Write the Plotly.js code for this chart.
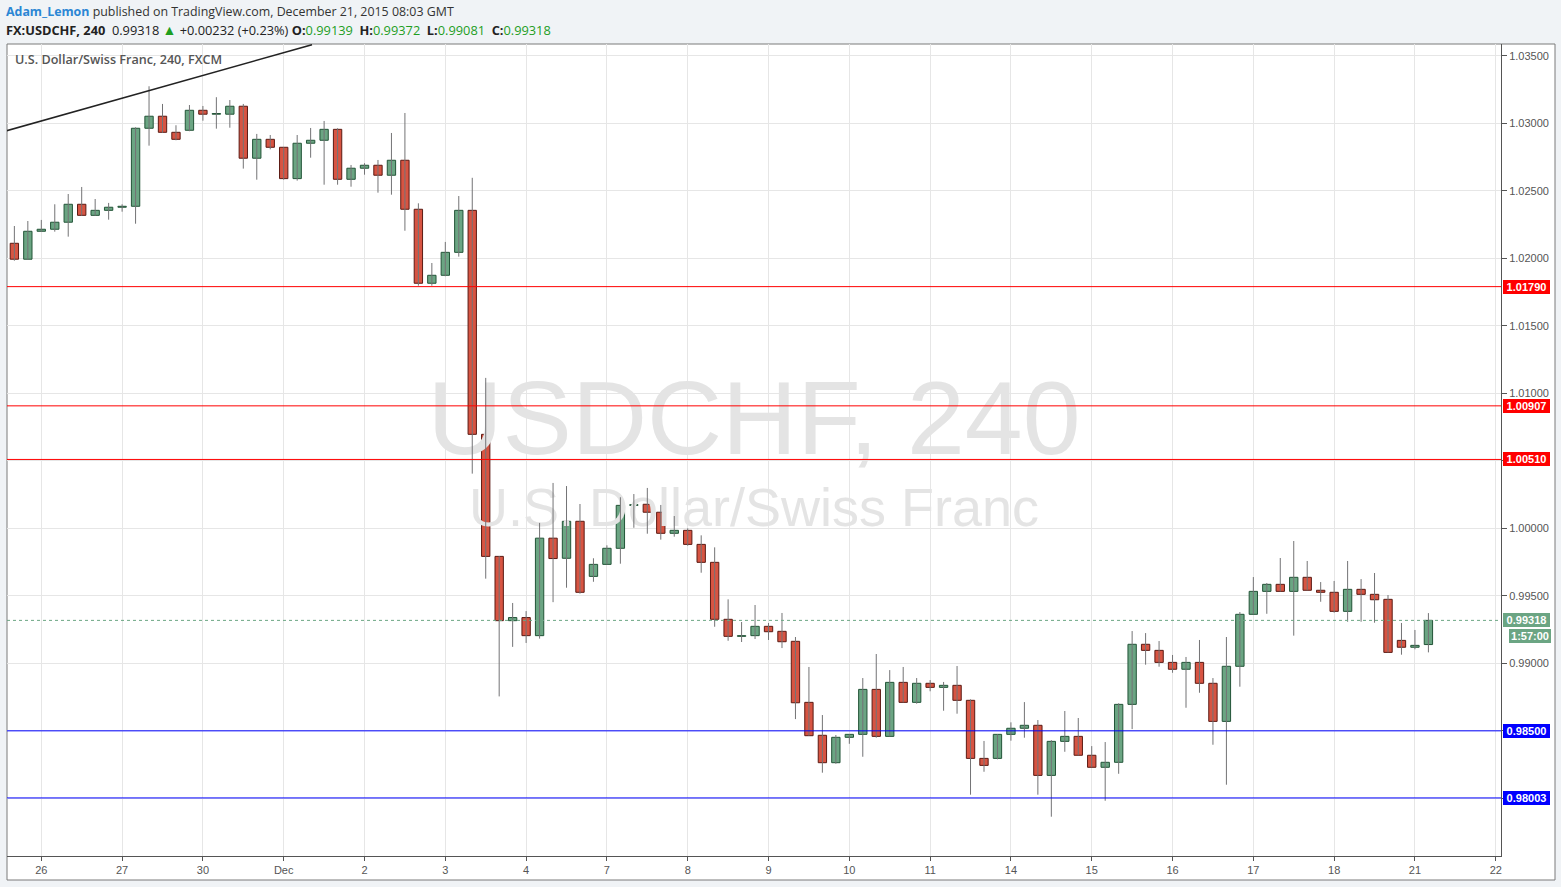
<!DOCTYPE html>
<html><head><meta charset="utf-8">
<script src="https://cdn.plot.ly/plotly-3.0.1.min.js"></script>
<style>html,body{margin:0;padding:0;background:#f0f3f6;overflow:hidden}#chart{width:1561px;height:887px}</style>
</head><body><div id="chart"></div>
<script>
// ---- data: 4-hour bars, index 0 = first bar of Nov 26 ----
const firstBarIndex = -2;
const open = [
1.02111,1.01993,1.02200,1.02215,1.02267,1.02400,1.02318,1.02355,1.02378,1.02385,
1.02963,1.03052,1.02933,1.02948,1.03096,1.03067,1.03067,1.03126,1.02741,1.02881,
1.02822,1.02590,1.02852,1.02874,1.02955,1.02585,1.02667,1.02689,1.02615,1.02726,
1.02363,1.01815,1.01874,1.02044,1.02355,1.00696,0.99792,0.99316,0.99339,0.99205,
0.99927,0.99778,1.00052,0.99644,0.99733,0.99852,1.00170,1.00178,1.00119,0.99963,
0.99985,0.99881,0.99748,0.99326,0.99200,0.99205,0.99274,0.99237,0.99163,0.98711,
0.98467,0.98264,0.98452,0.98474,0.98807,0.98459,0.98859,0.98711,0.98852,0.98822,
0.98837,0.98726,0.98296,0.98296,0.98474,0.98519,0.98541,0.98170,0.98422,0.98459,
0.98319,0.98230,0.98267,0.98696,0.99141,0.99096,0.99007,0.98956,0.99007,0.98852,
0.98570,0.98978,0.99363,0.99533,0.99585,0.99533,0.99637,0.99541,0.99526,0.99385,
0.99548,0.99511,0.99474,0.99170,0.99119,0.99139];
const high = [
1.02239,1.02276,1.02284,1.02400,1.02476,1.02528,1.02439,1.02410,1.02400,1.02970,
1.03274,1.03143,1.02985,1.03135,1.03128,1.03193,1.03172,1.03143,1.02921,1.02913,
1.02822,1.02913,1.02965,1.03017,1.02963,1.02691,1.02704,1.02728,1.02928,1.03076,
1.02407,1.01965,1.02121,1.02461,1.02596,1.01114,0.99795,0.99447,0.99387,1.00040,
1.00336,1.00313,1.00180,0.99778,0.99874,1.00230,1.00254,1.00299,1.00173,1.00091,
1.00000,0.99948,0.99859,0.99474,0.99306,0.99432,0.99299,0.99373,0.99195,0.98973,
0.98617,0.98469,0.98474,0.98891,0.99069,0.98950,0.98973,0.98891,0.98876,0.98862,
0.98980,0.98733,0.98425,0.98474,0.98563,0.98713,0.98580,0.98431,0.98647,0.98595,
0.98387,0.98417,0.98704,0.99239,0.99224,0.99165,0.99062,0.99047,0.99173,0.98891,
0.99195,0.99380,0.99639,0.99595,0.99780,0.99906,0.99758,0.99602,0.99610,0.99758,
0.99624,0.99669,0.99506,0.99299,0.99247,0.99372];
const low = [
1.01982,1.01990,1.02195,1.02197,1.02160,1.02315,1.02315,1.02286,1.02345,1.02256,
1.02834,1.02930,1.02874,1.02941,1.03019,1.02960,1.02967,1.02664,1.02582,1.02807,
1.02582,1.02575,1.02745,1.02545,1.02545,1.02530,1.02619,1.02486,1.02471,1.02204,
1.01797,1.01797,1.01867,1.02012,1.00405,0.99627,0.98755,0.99122,0.99151,0.99183,
0.99453,0.99560,0.99516,0.99604,0.99733,0.99738,1.00004,0.99960,0.99916,0.99938,
0.99871,0.99671,0.99271,0.99167,0.99158,0.99180,0.99173,0.99113,0.98587,0.98464,
0.98190,0.98256,0.98404,0.98308,0.98449,0.98459,0.98711,0.98701,0.98793,0.98649,
0.98627,0.98027,0.98197,0.98289,0.98427,0.98449,0.98027,0.97864,0.98345,0.98319,
0.98230,0.97982,0.98182,0.98513,0.98990,0.98975,0.98930,0.98671,0.98782,0.98397,
0.98101,0.98827,0.99363,0.99367,0.99533,0.99205,0.99541,0.99456,0.99375,0.99308,
0.99308,0.99301,0.99081,0.99064,0.99104,0.99081];
const close = [
1.01993,1.02200,1.02215,1.02267,1.02400,1.02318,1.02355,1.02378,1.02385,1.02963,
1.03052,1.02933,1.02881,1.03096,1.03067,1.03072,1.03126,1.02741,1.02881,1.02822,
1.02590,1.02852,1.02874,1.02955,1.02585,1.02667,1.02689,1.02615,1.02726,1.02363,
1.01815,1.01874,1.02044,1.02355,1.00696,0.99792,0.99316,0.99339,0.99205,0.99927,
0.99776,1.00052,0.99526,0.99733,0.99852,1.00170,1.00175,1.00119,0.99963,0.99985,
0.99881,0.99748,0.99326,0.99200,0.99205,0.99274,0.99234,0.99160,0.98708,0.98464,
0.98264,0.98452,0.98474,0.98807,0.98459,0.98859,0.98711,0.98852,0.98822,0.98837,
0.98726,0.98296,0.98244,0.98474,0.98519,0.98541,0.98170,0.98422,0.98459,0.98319,
0.98230,0.98267,0.98696,0.99141,0.99096,0.99007,0.98956,0.99007,0.98852,0.98570,
0.98978,0.99363,0.99533,0.99585,0.99533,0.99637,0.99541,0.99526,0.99385,0.99548,
0.99511,0.99471,0.99081,0.99119,0.99133,0.99318];
const barsPerDay = 6;
const dayLabels = ['26','27','30','Dec','2','3','4','7','8','9','10','11','14','15','16','17','18','21','22'];
const priceTicks = [0.980,0.985,0.990,0.995,1.000,1.005,1.010,1.015,1.020,1.025,1.030,1.035];
const priceTickLabels = ['0.98000','0.98500','0.99000','0.99500','1.00000','1.00500','1.01000','1.01500','1.02000','1.02500','1.03000','1.03500'];
const redLevels = [1.01790, 1.00907, 1.00510];
const blueLevels = [0.98500, 0.98003];
const lastPrice = 0.99318;
const countdown = '1:57:00';
const trendLine = {x0: -2.6, y0: 1.02944, x1: 20.1, y1: 1.03582};

// ---- geometry ----
const W = 1561, H = 887;
const M = {l: 7, r: 60, t: 44, b: 31};
const PW = W - M.l - M.r, PH = H - M.t - M.b;
const px = x => (x - M.l) / PW;
const py = y => (H - M.b - y) / PH;
const xRange = [-2.547, 108.39];
const yRange = [0.97573, 1.03587];
const yAt = ypix => yRange[0] + (H - M.b - ypix) / PH * (yRange[1] - yRange[0]);

const xs = open.map((_, i) => i + firstBarIndex);
const up = open.map((o, i) => close[i] >= o);
const GREEN = '#6ba583', GREEN_D = '#225437', RED = '#d75442', RED_D = '#5b1a13', WICK = '#737375';

const wx = [], wy = [];
xs.forEach((x, i) => { wx.push(x, x, null); wy.push(low[i], high[i], null); });

const traces = [
  {type: 'scatter', mode: 'text', x: [(xRange[0] + xRange[1]) / 2, (xRange[0] + xRange[1]) / 2],
   y: [yAt(428), yAt(512)], text: ['USDCHF, 240', 'U.S. Dollar/Swiss Franc'],
   textfont: {family: 'Liberation Sans, Arial, sans-serif', size: [104, 54], color: '#e4e4e4'},
   textposition: 'middle center', hoverinfo: 'skip', showlegend: false},
  {type: 'scatter', mode: 'lines', x: wx, y: wy, line: {color: WICK, width: 1},
   hoverinfo: 'skip', showlegend: false},
  {type: 'bar', x: xs, base: open.map((o, i) => Math.min(o, close[i])),
   y: open.map((o, i) => Math.abs(close[i] - o)), width: 0.62,
   marker: {color: up.map(u => u ? GREEN : RED), line: {color: up.map(u => u ? GREEN_D : RED_D), width: 1}},
   hoverinfo: 'skip', showlegend: false}
];

const shapes = [
  {type: 'rect', xref: 'paper', yref: 'paper', x0: 0, x1: px(1555), y0: py(880), y1: 1,
   fillcolor: '#ffffff', line: {color: '#7a7a7a', width: 1}, layer: 'below'},
  {type: 'line', xref: 'x', yref: 'y', x0: trendLine.x0, y0: trendLine.y0, x1: trendLine.x1, y1: trendLine.y1,
   line: {color: '#222222', width: 1.5}},
  {type: 'line', xref: 'paper', yref: 'y', x0: 0, x1: 1, y0: lastPrice, y1: lastPrice,
   line: {color: GREEN, width: 1, dash: 'dot'}}
];
redLevels.forEach(v => shapes.push({type: 'line', xref: 'paper', yref: 'y', x0: 0, x1: 1, y0: v, y1: v, line: {color: '#ff0000', width: 1}}));
blueLevels.forEach(v => shapes.push({type: 'line', xref: 'paper', yref: 'y', x0: 0, x1: 1, y0: v, y1: v, line: {color: '#0000ff', width: 1}}));

const FONT = 'Open Sans, Noto Sans, sans-serif';
const AX = 'Liberation Sans, Arial, sans-serif';
const annotations = [];
const priceBox = (v, bg, text, shift) => annotations.push({
  xref: 'paper', x: px(1503), xanchor: 'left', yref: 'y', y: v, yanchor: 'middle', yshift: shift || 0,
  text: text, showarrow: false, bgcolor: bg, borderpad: 1, borderwidth: 0, width: 45, height: 12,
  font: {family: AX, size: 11, color: '#ffffff', weight: 'bold'}, align: 'center'});
redLevels.forEach(v => priceBox(v, '#ff0000', v.toFixed(5)));
blueLevels.forEach(v => priceBox(v, '#0000ff', v.toFixed(5)));
priceBox(lastPrice, GREEN, lastPrice.toFixed(5));
annotations.push({xref: 'paper', x: px(1509), xanchor: 'left', yref: 'y', y: lastPrice, yanchor: 'middle', yshift: -16,
  text: countdown, showarrow: false, bgcolor: GREEN, borderpad: 1, borderwidth: 0, width: 40, height: 12,
  font: {family: AX, size: 11, color: '#ffffff', weight: 'bold'}, align: 'center'});

const last = open.length - 1;
const G = '#1f9e1f';
const sp = '&nbsp;';
annotations.push({xref: 'paper', yref: 'paper', x: px(4), y: py(11), xanchor: 'left', yanchor: 'middle', showarrow: false,
  text: '<span style="color:#2b86d4"><b>Adam_Lemon</b></span> published on TradingView.com, December 21, 2015 08:03 GMT',
  font: {family: FONT, size: 12.4, color: '#333333'}});
annotations.push({xref: 'paper', yref: 'paper', x: px(4), y: py(29), xanchor: 'left', yanchor: 'middle', showarrow: false,
  text: '<b>FX:USDCHF, 240</b>' + sp + sp + close[last].toFixed(5) + sp + '<span style="color:' + G + ';font-size:14px">▲</span>' + sp + '+0.00232 (+0.23%)' + sp +
    '<b>O:</b><span style="color:' + G + '">' + open[last].toFixed(5) + '</span>' + sp + sp +
    '<b>H:</b><span style="color:' + G + '">' + high[last].toFixed(5) + '</span>' + sp + sp +
    '<b>L:</b><span style="color:' + G + '">' + low[last].toFixed(5) + '</span>' + sp + sp +
    '<b>C:</b><span style="color:' + G + '">' + close[last].toFixed(5) + '</span>',
  font: {family: FONT, size: 12.8, color: '#222222'}});
annotations.push({xref: 'paper', yref: 'paper', x: px(13), y: py(60), xanchor: 'left', yanchor: 'middle', showarrow: false,
  text: 'U.S. Dollar/Swiss Franc, 240, FXCM', font: {family: FONT, size: 12.6, color: '#555555', weight: 600}});

const layout = {
  width: W, height: H, margin: M, paper_bgcolor: '#f0f3f6', plot_bgcolor: 'rgba(0,0,0,0)',
  showlegend: false, bargap: 0,
  xaxis: {range: xRange, tickmode: 'array', tickvals: dayLabels.map((_, i) => i * barsPerDay), ticktext: dayLabels,
    showgrid: true, gridcolor: '#e6e6e6', gridwidth: 1, zeroline: false, showline: true, linecolor: '#555555', linewidth: 1,
    ticks: 'outside', ticklen: 4, tickcolor: '#555555', tickfont: {family: AX, size: 11, color: '#555555'}, fixedrange: true},
  yaxis: {range: yRange, side: 'right', tickmode: 'array', tickvals: priceTicks, ticktext: priceTickLabels,
    showgrid: true, gridcolor: '#e6e6e6', gridwidth: 1, zeroline: false, showline: true, linecolor: '#555555', linewidth: 1,
    ticks: 'outside', ticklen: 5, tickcolor: '#555555', tickfont: {family: AX, size: 11, color: '#555555'}, fixedrange: true},
  shapes: shapes, annotations: annotations
};
Plotly.newPlot('chart', traces, layout, {displayModeBar: false, staticPlot: true});
</script></body></html>
